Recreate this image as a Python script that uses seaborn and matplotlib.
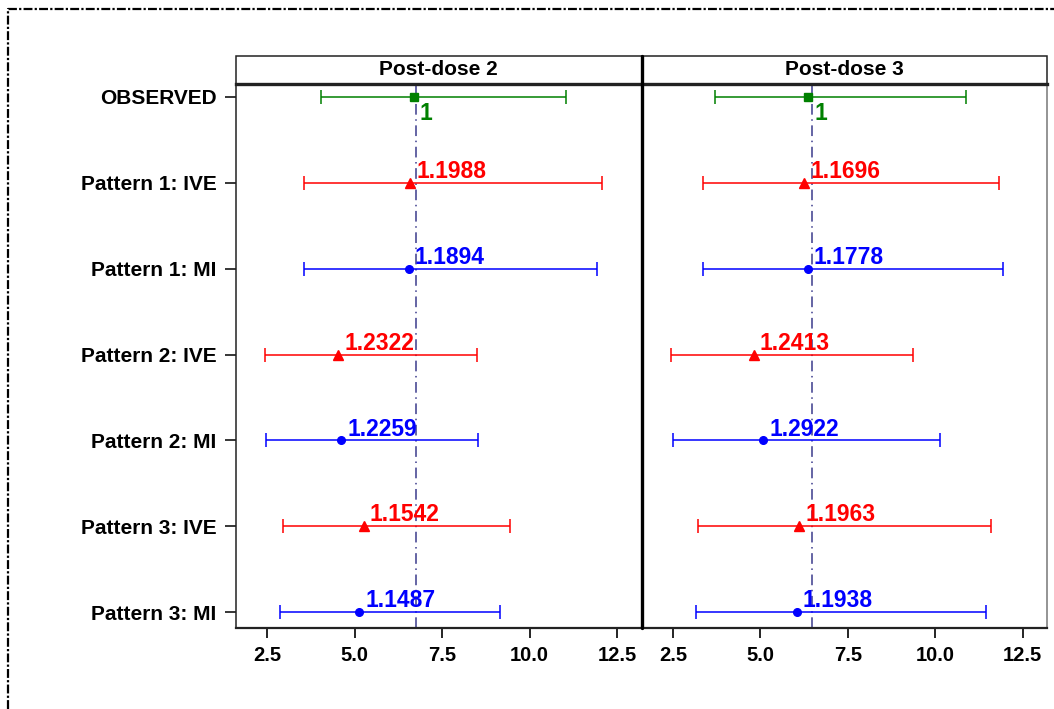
import numpy as np
import pandas as pd
import matplotlib
matplotlib.use("Agg")
import matplotlib.pyplot as plt
from matplotlib.patches import Rectangle
from matplotlib.lines import Line2D
import seaborn as sns

# values
categories = ["OBSERVED", "Pattern 1: IVE", "Pattern 1: MI", "Pattern 2: IVE",
              "Pattern 2: MI", "Pattern 3: IVE", "Pattern 3: MI"]
kinds = ["obs", "ive", "mi", "ive", "mi", "ive", "mi"]
doses = ["Post-dose 2", "Post-dose 3"]

est_d2 = [6.68, 6.58, 6.54, 4.53, 4.60, 5.25, 5.13]
low_d2 = [4.03, 3.55, 3.55, 2.42, 2.47, 2.95, 2.85]
high_d2 = [11.04, 12.06, 11.92, 8.49, 8.53, 9.43, 9.16]
ratio_d2 = ["1", "1.1988", "1.1894", "1.2322", "1.2259", "1.1542", "1.1487"]

est_d3 = [6.36, 6.26, 6.35, 4.81, 5.07, 6.10, 6.04]
low_d3 = [3.70, 3.36, 3.36, 2.45, 2.50, 3.22, 3.17]
high_d3 = [10.89, 11.84, 11.94, 9.38, 10.14, 11.60, 11.46]
ratio_d3 = ["1", "1.1696", "1.1778", "1.2413", "1.2922", "1.1963", "1.1938"]

ref_line = {"Post-dose 2": 6.75, "Post-dose 3": 6.47}

colors = {"obs": "#008000", "ive": "#FF0000", "mi": "#0000FF"}
markers = {"obs": "s", "ive": "^", "mi": "o"}
msizes = {"obs": 5.5, "ive": 6.5, "mi": 5.5}

df = pd.concat([
    pd.DataFrame({"dose": doses[0], "label": categories, "kind": kinds,
                  "est": est_d2, "low": low_d2, "high": high_d2, "ratio": ratio_d2}),
    pd.DataFrame({"dose": doses[1], "label": categories, "kind": kinds,
                  "est": est_d3, "low": low_d3, "high": high_d3, "ratio": ratio_d3}),
], ignore_index=True)
df["ypos"] = df["label"].map({c: i for i, c in enumerate(categories)})

sns.set_style("white")
plt.rcParams["font.family"] = ["Liberation Sans", "DejaVu Sans"]
plt.rcParams["font.weight"] = "bold"


def draw_forest(data, **kws):
    ax = plt.gca()
    dose = data["dose"].iloc[0]
    ax.axvline(ref_line[dose], color="#3a3a8c", lw=1.1,
               linestyle=(0, (7, 3, 1, 3)), zorder=1)
    for _, r in data.iterrows():
        c = colors[r["kind"]]
        ax.errorbar(r["est"], r["ypos"],
                    xerr=[[r["est"] - r["low"]], [r["high"] - r["est"]]],
                    fmt="none", ecolor=c, elinewidth=1.1, capsize=5.2,
                    capthick=1.1, zorder=2)
        ax.plot(r["est"], r["ypos"], marker=markers[r["kind"]], color=c,
                ms=msizes[r["kind"]], ls="none", zorder=3)
        if r["kind"] == "obs":
            ax.annotate(r["ratio"], (r["est"], r["ypos"]), xytext=(4.5, -3.5),
                        textcoords="offset points", ha="left", va="top",
                        color=c, fontsize=16.5, fontweight="bold")
        else:
            ax.annotate(r["ratio"], (r["est"], r["ypos"]), xytext=(4.5, 3.5),
                        textcoords="offset points", ha="left", va="baseline",
                        color=c, fontsize=16.5, fontweight="bold")


g = sns.FacetGrid(df, col="dose", col_order=doses, height=7.09,
                  aspect=5.27 / 7.09, sharex=True, sharey=True, despine=False)
g.map_dataframe(draw_forest)
g.fig.set_size_inches(10.54, 7.09)
g.fig.subplots_adjust(left=0.2239, right=0.9934, bottom=0.1147, top=0.8815,
                      wspace=0.0)

strip_h = 28 / 543
for ax, dose in zip(g.axes.flat, doses):
    ax.set_xlim(1.6, 13.2)
    ax.set_ylim(6.18, -0.15)
    ax.set_xticks([2.5, 5.0, 7.5, 10.0, 12.5])
    ax.set_xticklabels(["2.5", "5.0", "7.5", "10.0", "12.5"])
    ax.set_title("")
    ax.set_xlabel("")
    ax.set_ylabel("")
    ax.tick_params(axis="x", direction="out", length=7, width=1.2, pad=6.5,
                   labelsize=14.5, bottom=True, colors="black")
    for s in ax.spines.values():
        s.set_color("#222222")
        s.set_linewidth(1.1)
    ax.spines["bottom"].set_linewidth(1.6)
    ax.spines["top"].set_linewidth(2.4)
    ax.add_patch(Rectangle((0, 1), 1, strip_h, transform=ax.transAxes,
                           clip_on=False, fc="white", ec="#222222", lw=1.1))
    ax.text(0.5, 1 + strip_h / 2, dose, transform=ax.transAxes, ha="center",
            va="center", fontsize=15, fontweight="bold", color="black")
    for lab in ax.get_xticklabels():
        lab.set_fontweight("bold")

left_ax, right_ax = g.axes.flat
left_ax.set_yticks(range(len(categories)))
left_ax.set_yticklabels(categories)
left_ax.tick_params(axis="y", direction="out", length=8, width=1.1, pad=6,
                    labelsize=15, left=True, colors="black")
for lab in left_ax.get_yticklabels():
    lab.set_fontweight("bold")
right_ax.tick_params(axis="y", left=False, labelleft=False)
right_ax.spines["right"].set_color("#777777")

# thick divider between the two panels, through the header strip
fig = g.fig
xdiv = left_ax.get_position().x1
fig.add_artist(Line2D([xdiv, xdiv], [0.1147, 0.8815 + strip_h * 0.7668],
                      transform=fig.transFigure, color="black", lw=2.4))

# outer dashed frame (left and top edges visible)
fig.add_artist(Line2D([8 / 1054, 8 / 1054, 1.0], [0.0, 1 - 9 / 709, 1 - 9 / 709],
                      transform=fig.transFigure, color="black", lw=1.6,
                      linestyle=(0, (4, 1, 1, 1))))

fig.savefig("out.png", dpi=100, facecolor="white")
